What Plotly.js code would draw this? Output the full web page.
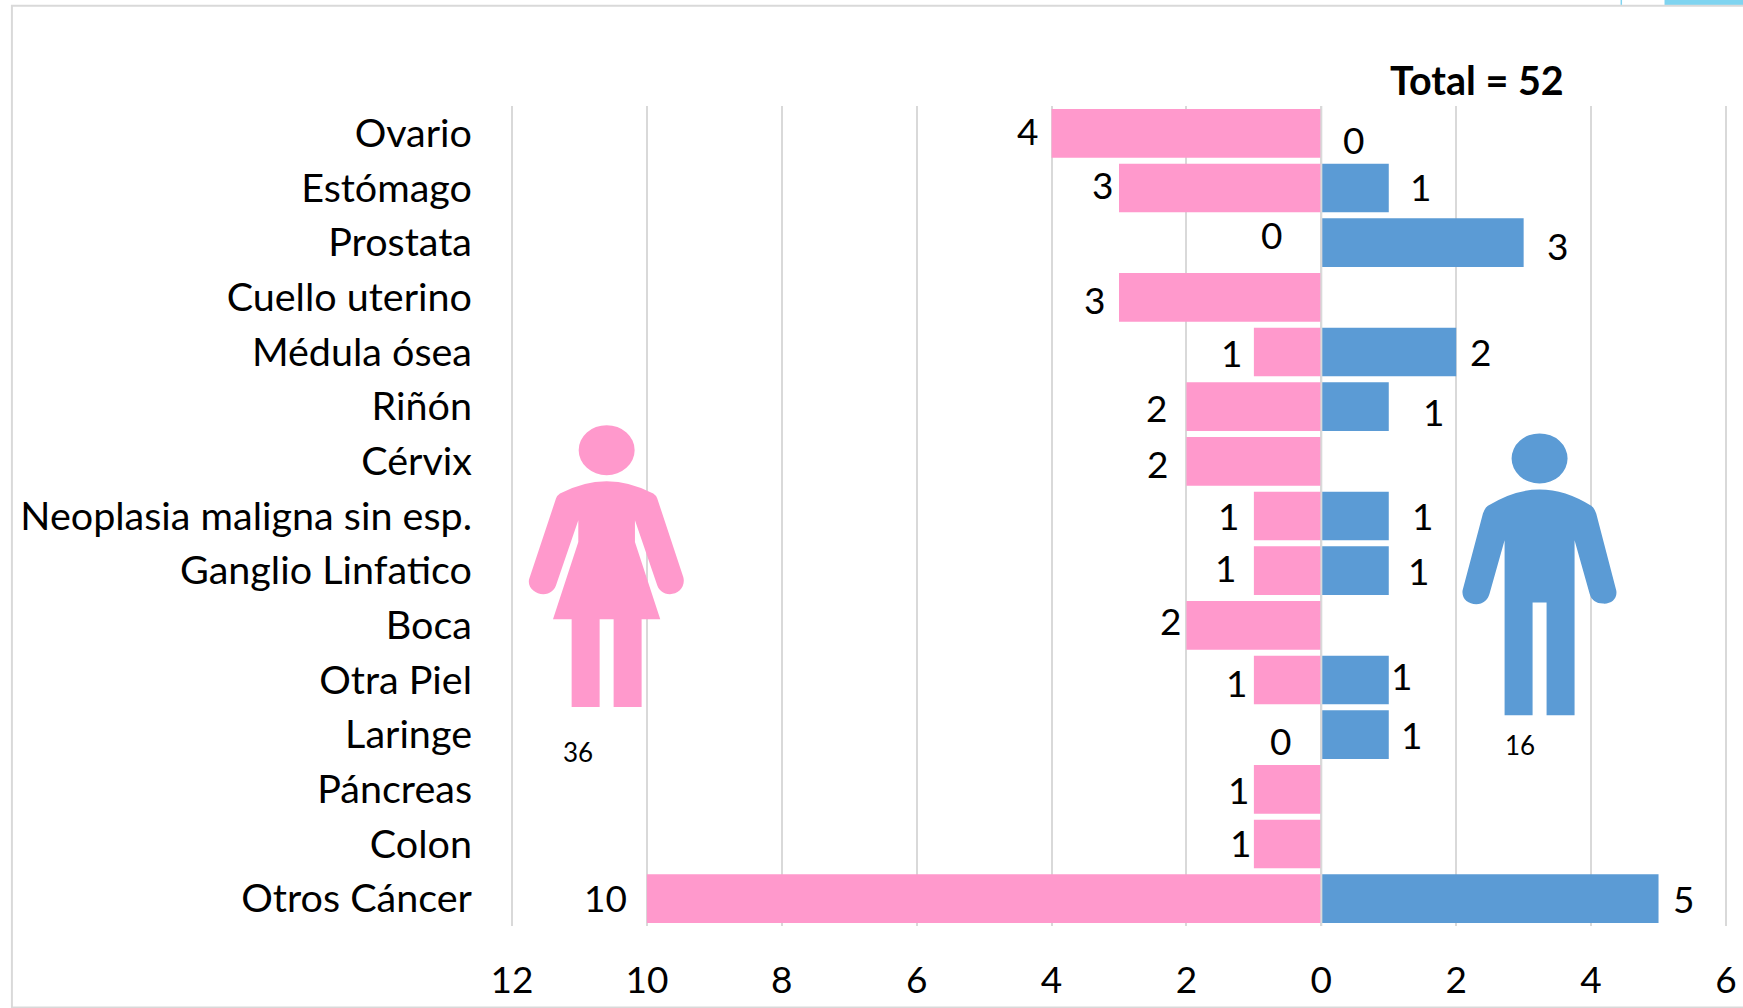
<!DOCTYPE html>
<html><head><meta charset="utf-8">
<script src="https://cdn.plot.ly/plotly-3.0.1.min.js"></script>
<style>html,body{margin:0;padding:0;background:#fff}</style></head>
<body><div id="chart" style="width:1743px;height:1008px"></div>
<script>
const categories = ["Ovario","Estómago","Prostata","Cuello uterino","Médula ósea","Riñón","Cérvix","Neoplasia maligna sin esp.","Ganglio Linfatico","Boca","Otra Piel","Laringe","Páncreas","Colon","Otros Cáncer"];
const mujeres = [4,3,0,3,1,2,2,1,1,2,1,0,1,1,10];
const hombres = [0,1,3,null,2,1,null,1,1,null,1,1,null,null,5];
const tickValues = [-12,-10,-8,-6,-4,-2,0,2,4,6];
const tickLabels = ["12","10","8","6","4","2","0","2","4","6"];
const totalLabel = "Total = 52";
const totalMujeres = "36";
const totalHombres = "16";

// label nudges [x, y] in px, relative to the bar end / category centre
const nudgeM = [[-24.4,3.1],[-16.8,3.7],[-49.5,8],[-24.5,-2],[-22.1,-0.6],[-29.8,-1.3],[-28.8,-2.4],[-25.1,0.3],[-28.7,2.9],[-16.4,4.5],[-17.5,-2.8],[-41.1,-6.2],[-15.1,-0.3],[-13.7,1.1],[-41,1.5]];
const nudgeH = [[32.5,-5.9],[31.5,1.7],[34.1,-2.7],null,[24.2,0.1],[44.9,-4.7],null,[34.1,0.3],[29.9,0.2],null,[12.7,4.2],[22.7,0.1],null,null,[24.8,0]];

const W=1743,H=1008,L=510,R=14.5,T=106,B=82.4;
const pw=W-L-R, ph=H-T-B;
const PX=x=>(x-L)/pw, PY=y=>1-(y-T)/ph;
const FONT="Lato, sans-serif", PINK="#FF99CC", BLUE="#5B9BD5", GRID="#D9D9D9", FS=37, FSL=39.5;

function rect(x0,y0,x1,y1,fill,layer,lineColor,lineW){
  return {type:'rect',xref:'paper',yref:'paper',x0:PX(x0),x1:PX(x1),y0:PY(y0),y1:PY(y1),
    fillcolor:fill,layer:layer,line:{width:lineW||0,color:lineColor||fill}};
}
function glyph(segs,ox,oy,fill){
  const mp=(x,y)=>PX(ox+x/3)+','+PY(oy+y/3);
  const d=segs.map(s=>{
    const c=s[0],p=[];
    for(let i=1;i<s.length;i+=2)p.push(mp(s[i],s[i+1]));
    return c+' '+p.join(' ');
  }).join(' ')+' Z';
  return {type:'path',xref:'paper',yref:'paper',path:d,fillcolor:fill,layer:'above',line:{width:0}};
}
function head(cx,cy,fill){
  return {type:'circle',xref:'paper',yref:'paper',x0:PX(cx-28),x1:PX(cx+28),y0:PY(cy-25),y1:PY(cy+25),
    fillcolor:fill,layer:'above',line:{width:0}};
}
const woman=[['M',150,250],['Q',290,176,430,250],['Q',438,255,442,265],['L',520,500],['C',528,530,505,552,480,552],['C',460,552,445,540,440,520],['L',375,330],['L',375,395],['L',451,627],['L',395,627],['L',395,890],['L',311,890],['L',311,627],['L',269,627],['L',269,890],['L',185,890],['L',185,627],['L',129,627],['L',205,395],['L',205,330],['L',140,520],['C',135,540,120,552,100,552],['C',75,552,50,530,58,505],['L',138,265],['Q',142,255,150,250]];
const man=[['M',115,257],['Q',270,159,425,257],['Q',435,264,440,280],['L',500,510],['C',505,535,485,552,460,550],['C',440,550,425,540,420,520],['L',375,360],['L',375,885],['L',291,885],['L',291,547],['L',249,547],['L',249,885],['L',165,885],['L',165,360],['L',120,520],['C',115,540,100,552,80,552],['C',55,552,35,535,39,510],['L',100,280],['Q',105,264,115,257]];

const shapes=[
  rect(1665,-1,1744,5,'#7FD4F0','below'),
  rect(1621,-1,1622.5,5,'#7FD4F0','below'),
  rect(11.7,5.7,1750,1007,'rgba(0,0,0,0)','below',GRID,2),
  rect(1330,100,1745,122,'#FFFFFF','between'),
  rect(518,722.5,700,789,'#FFFFFF','between'),
  rect(1460,716.7,1720,782,'#FFFFFF','between'),
  {type:'line',xref:'x',yref:'paper',x0:0,x1:0,y0:0,y1:1,layer:'above',line:{color:GRID,width:2}},
  head(606.7,450,PINK), glyph(woman,510,410,PINK),
  head(1540,458.3,BLUE), glyph(man,1450,420,BLUE)
];

const annotations=[];
function lab(x,cat,txt,n){
  annotations.push({x:x,y:cat,xref:'x',yref:'y',text:String(txt),showarrow:false,xanchor:'center',yanchor:'middle',
    xshift:n[0],yshift:n[1],font:{family:FONT,size:FS,color:'#000'}});
}
categories.forEach((c,i)=>{
  if(mujeres[i]!==null) lab(-mujeres[i],c,mujeres[i],nudgeM[i]);
  if(hombres[i]!==null) lab(hombres[i],c,hombres[i],nudgeH[i]);
});
function free(px,py,txt,size,weight){
  annotations.push({x:PX(px),y:PY(py),xref:'paper',yref:'paper',text:txt,showarrow:false,xanchor:'center',yanchor:'middle',
    font:{family:FONT,size:size,color:'#000',weight:weight||400}});
}
free(1477,80,totalLabel,FSL,700);
free(577.7,751.7,totalMujeres,26);
free(1520,745,totalHombres,26);

const traces=[
 {type:'bar',orientation:'h',name:'Mujeres',y:categories,x:mujeres.map(v=>v===null?null:-v),marker:{color:PINK,line:{width:0}},hoverinfo:'y+text',text:mujeres.map(String),textposition:'none'},
 {type:'bar',orientation:'h',name:'Hombres',y:categories,x:hombres,marker:{color:BLUE,line:{width:0}},hoverinfo:'y+x'}
];
const layout={
  width:W,height:H,margin:{l:L,r:R,t:T,b:B,pad:0},paper_bgcolor:'#fff',plot_bgcolor:'#fff',
  barmode:'overlay',bargap:0.11,showlegend:false,
  font:{family:FONT,size:FS,color:'#000'},
  xaxis:{range:[-12.03,6.03],tickmode:'array',tickvals:tickValues,ticktext:tickLabels,showgrid:true,gridcolor:GRID,gridwidth:2,
    zeroline:false,showline:false,ticks:'',ticklabelstandoff:29,tickfont:{family:FONT,size:FS,color:'#000'},automargin:false,fixedrange:true},
  yaxis:{type:'category',categoryorder:'array',categoryarray:categories,range:[14.5,-0.5],showgrid:false,zeroline:false,showline:false,
    ticks:'',ticklabelstandoff:37,tickfont:{family:FONT,size:FSL,color:'#000'},automargin:false,fixedrange:true},
  shapes:shapes,annotations:annotations
};
Plotly.newPlot('chart',traces,layout,{displayModeBar:false,responsive:false});
</script></body></html>
